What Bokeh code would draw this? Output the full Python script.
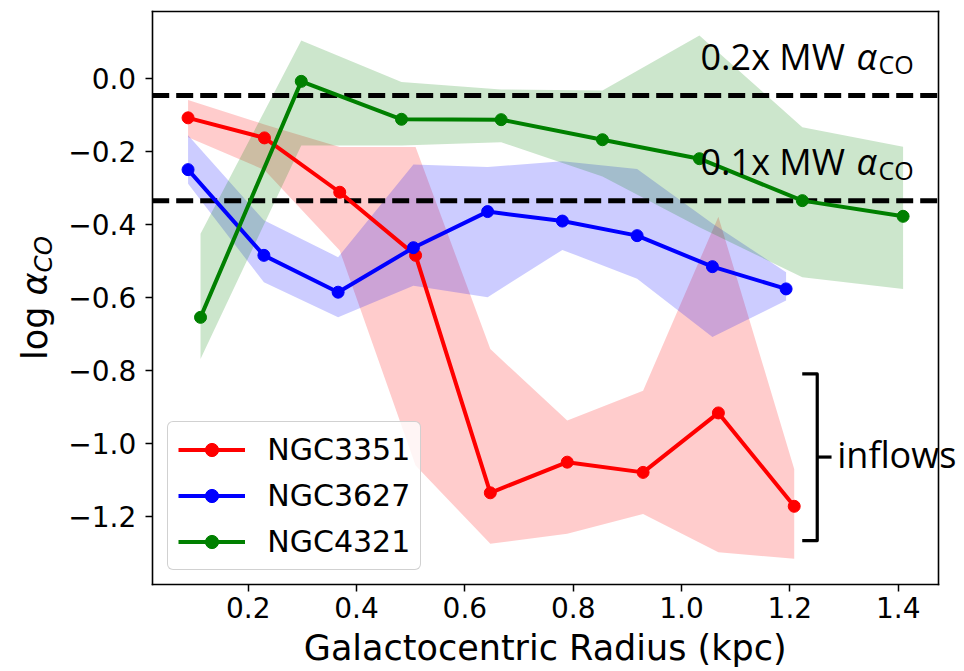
import numpy as np
from bokeh.plotting import figure
from bokeh.models import (Range1d, FixedTicker, CustomJSTickFormatter, Label,
                          Legend, LegendItem, LinearAxis)
from bokeh.embed import file_html
from bokeh.resources import INLINE

# ---------------- data ----------------
ngc3351_r = [0.089, 0.230, 0.369, 0.509, 0.647, 0.789, 0.929, 1.068, 1.208]
ngc3351_v = [-0.107, -0.162, -0.311, -0.484, -1.135, -1.051, -1.079, -0.916, -1.172]
ngc3351_hi = [-0.058, -0.125, -0.187, -0.187, -0.741, -0.937, -0.855, -0.378, -1.070]
ngc3351_lo = [-0.160, -0.250, -0.471, -1.060, -1.275, -1.247, -1.193, -1.298, -1.316]

ngc3627_r = [0.089, 0.229, 0.366, 0.505, 0.642, 0.780, 0.918, 1.057, 1.193]
ngc3627_v = [-0.249, -0.484, -0.585, -0.463, -0.364, -0.390, -0.430, -0.515, -0.576]
ngc3627_hi = [-0.155, -0.388, -0.489, -0.235, -0.242, -0.226, -0.247, -0.397, -0.530]
ngc3627_lo = [-0.288, -0.558, -0.654, -0.567, -0.599, -0.469, -0.548, -0.708, -0.608]

ngc4321_r = [0.112, 0.298, 0.483, 0.667, 0.854, 1.033, 1.223, 1.409]
ngc4321_v = [-0.654, -0.007, -0.111, -0.112, -0.167, -0.219, -0.334, -0.377]
ngc4321_hi = [-0.425, 0.105, -0.009, -0.029, -0.032, 0.119, -0.133, -0.186]
ngc4321_lo = [-0.768, -0.183, -0.183, -0.174, -0.268, -0.407, -0.544, -0.576]

names = ["NGC3351", "NGC3627", "NGC4321"]
colors = ["#ff0000", "#0000ff", "#008000"]

mw_levels = [-0.046, -0.334]           # 0.2x and 0.1x MW alpha_CO
mw_labels = ["0.2x MW ", "0.1x MW "]
mw_label_x = [1.035, 1.035]
mw_label_y = [0.023, -0.266]

bracket_x = [1.2228, 1.2505, 1.2505, 1.2228]
bracket_y = [-0.809, -0.809, -1.266, -1.266]
bracket_tick_x = [1.2505, 1.2769]
bracket_tick_y = [-1.037, -1.037]
inflow_x, inflow_y = 1.2874, -1.068

x_ticks = [0.2, 0.4, 0.6, 0.8, 1.0, 1.2, 1.4]
y_ticks = [0.0, -0.2, -0.4, -0.6, -0.8, -1.0, -1.2]
x_lim = (0.0228, 1.4738)
y_lim = (-1.3872, 0.1859)

# ---------------- layout geometry (pixels) ----------------
W, H = 964, 671
box_l, box_r, box_t, box_b = 151.7, 937.7, 10.5, 584.3
sx = (box_r - box_l) / (x_lim[1] - x_lim[0])
sy = (box_b - box_t) / (y_lim[1] - y_lim[0])
full_x = (x_lim[0] - box_l / sx, x_lim[1] + (W - box_r) / sx)
full_y = (y_lim[0] - (H - box_b) / sy, y_lim[1] + box_t / sy)
tshift = 14      # correction of the text baseline placement (px)

p = figure(width=W, height=H, output_backend="svg", toolbar_location=None,
           x_range=Range1d(*full_x), y_range=Range1d(*full_y),
           min_border=0, min_border_left=0, min_border_right=0,
           min_border_top=0, min_border_bottom=0)
p.grid.visible = False
p.outline_line_color = None

series = [(ngc3351_r, ngc3351_v, ngc3351_lo, ngc3351_hi),
          (ngc3627_r, ngc3627_v, ngc3627_lo, ngc3627_hi),
          (ngc4321_r, ngc4321_v, ngc4321_lo, ngc4321_hi)]

for (r, v, lo, hi), c in zip(series, colors):
    p.varea(x=r, y1=lo, y2=hi, fill_color=c, fill_alpha=0.2)

p.segment(x0=[x_lim[0]] * len(mw_levels), x1=[x_lim[1]] * len(mw_levels),
          y0=mw_levels, y1=mw_levels, line_color="black", line_width=5,
          line_dash="17 7")

items = []
for (r, v, lo, hi), c, n in zip(series, colors, names):
    ln = p.line(r, v, line_color=c, line_width=4)
    sc = p.scatter(r, v, size=12, fill_color=c, line_color=c)
    items.append(LegendItem(label=n, renderers=[ln, sc]))

# bracket
p.line(bracket_x, bracket_y, line_color="black", line_width=3.2, line_join="round")
p.line(bracket_tick_x, bracket_tick_y, line_color="black", line_width=3.2)

# ---------------- axes (fixed on the data box) ----------------
fmt = "return tick.toFixed(1).replace('-', '\u2212');"
xa, ya = p.xaxis[0], p.yaxis[0]
xa.fixed_location = y_lim[0]
xa.bounds = x_lim
ya.fixed_location = x_lim[0]
ya.bounds = y_lim
for ax in (xa, ya):
    ax.axis_line_color = "black"
    ax.axis_line_width = 1.6
    ax.axis_line_cap = "square"
    ax.major_tick_in = 0
    ax.major_tick_out = 7
    ax.major_tick_line_color = "black"
    ax.major_tick_line_width = 1.5
    ax.minor_tick_line_color = None
    ax.major_label_text_font = "DejaVu Sans"
    ax.major_label_text_font_size = "28px"
    ax.major_label_text_color = "black"
    ax.formatter = CustomJSTickFormatter(code=fmt)
xa.ticker = FixedTicker(ticks=x_ticks)
ya.ticker = FixedTicker(ticks=y_ticks)
xa.major_label_standoff = 5
ya.major_label_standoff = 9

top_axis = LinearAxis(fixed_location=y_lim[1], bounds=x_lim,
                      ticker=FixedTicker(ticks=[]), axis_line_color="black",
                      axis_line_width=1.6, axis_line_cap="square",
                      major_tick_line_color=None, minor_tick_line_color=None)
right_axis = LinearAxis(fixed_location=x_lim[1], bounds=y_lim,
                        ticker=FixedTicker(ticks=[]), axis_line_color="black",
                        axis_line_width=1.6, axis_line_cap="square",
                        major_tick_line_color=None, minor_tick_line_color=None)
p.add_layout(top_axis, "above")
p.add_layout(right_axis, "right")

# ---------------- legend ----------------
legend = Legend(items=items, location=(box_l + 15.6, H - box_b + 14.3),
                label_text_font="DejaVu Sans",
                label_text_font_size="30px", label_text_color="black",
                glyph_width=67, glyph_height=33, label_height=33, spacing=11,
                padding=10, margin=0, label_standoff=22,
                border_line_color="#cccccc", border_line_width=1.5,
                border_line_alpha=0.9, background_fill_alpha=0.8)
if "border_radius" in legend.properties():
    legend.border_radius = 6
p.add_layout(legend)

# ---------------- annotations ----------------
for t, lx, ly in zip(mw_labels, mw_label_x, mw_label_y):
    p.add_layout(Label(x=lx, y=ly, y_offset=tshift, text=t, text_font="Open Sans",
                       text_font_size="36px", text_color="black",
                       text_baseline="alphabetic", text_align="left"))
    p.add_layout(Label(x=lx, y=ly, x_offset=156, y_offset=tshift, text="\u03b1",
                       text_font="Open Sans", text_font_style="italic",
                       text_font_size="36px", text_color="black",
                       text_baseline="alphabetic"))
    p.add_layout(Label(x=lx, y=ly, x_offset=178, y_offset=tshift - 8, text="CO",
                       text_font="Open Sans", text_font_size="25px",
                       text_color="black", text_baseline="alphabetic"))

p.add_layout(Label(x=inflow_x, y=inflow_y, y_offset=tshift, text="inflows",
                   text_font="Open Sans", text_font_size="36px", text_color="black",
                   text_baseline="alphabetic", text_align="left"))

# axis titles
x_mid = (x_lim[0] + x_lim[1]) / 2
y_mid = (y_lim[0] + y_lim[1]) / 2
p.add_layout(Label(x=x_mid, y=y_lim[0], y_offset=-77 + tshift,
                   text="Galactocentric Radius (kpc)", text_font="DejaVu Sans",
                   text_font_size="35px", text_color="black",
                   text_align="center", text_baseline="alphabetic"))
yx = -117
p.add_layout(Label(x=x_lim[0], y=y_mid, x_offset=yx, y_offset=-62, angle=np.pi / 2,
                   text="log ", text_font="DejaVu Sans", text_font_size="35px",
                   text_color="black", text_baseline="alphabetic", text_align="left"))
p.add_layout(Label(x=x_lim[0], y=y_mid, x_offset=yx, y_offset=2.5, angle=np.pi / 2,
                   text="\u03b1", text_font="DejaVu Sans", text_font_style="italic",
                   text_font_size="35px", text_color="black",
                   text_baseline="alphabetic", text_align="left"))
p.add_layout(Label(x=x_lim[0], y=y_mid, x_offset=yx + 8, y_offset=25.5,
                   angle=np.pi / 2, text="CO", text_font="DejaVu Sans",
                   text_font_style="italic", text_font_size="24.5px",
                   text_color="black", text_baseline="alphabetic", text_align="left"))

with open("out.html", "w", encoding="utf-8") as f:
    f.write(file_html(p, INLINE))
